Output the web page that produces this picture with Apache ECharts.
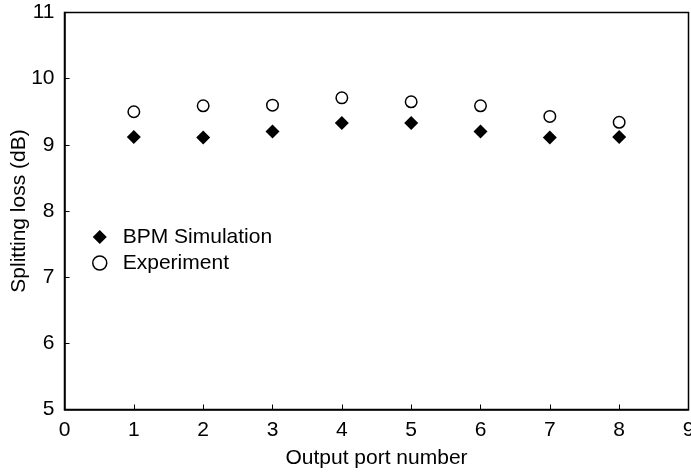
<!DOCTYPE html>
<html><head><meta charset="utf-8">
<script src="https://cdn.jsdelivr.net/npm/echarts@6/dist/echarts.min.js"></script>
<style>html,body{margin:0;padding:0;background:#fff}#c{width:691px;height:473px}</style>
</head><body><div id="c"></div>
<script>
const ports = [1, 2, 3, 4, 5, 6, 7, 8];
const bpmSimulation = [9.12, 9.11, 9.20, 9.33, 9.33, 9.20, 9.11, 9.12];
const experiment = [9.50, 9.59, 9.60, 9.71, 9.65, 9.59, 9.43, 9.34];

const font = 'Liberation Sans, Arial, sans-serif';
const chart = echarts.init(document.getElementById('c'));
chart.setOption({
  animation: false,
  backgroundColor: '#fff',
  grid: { left: 64.5, top: 12.5, right: 2.5, bottom: 63.5, show: true, borderColor: '#000', borderWidth: 1.5,
          backgroundColor: 'transparent', containLabel: false, outerBoundsMode: 'none' },
  legend: {
    orient: 'vertical', left: 92, top: 226.5, itemGap: 5, itemWidth: 14, itemHeight: 14,
    padding: 0,
    textStyle: { fontFamily: font, fontSize: 21, color: '#000', padding: [0, 0, 0, 11] },
    data: [
      { name: 'BPM Simulation', icon: 'diamond', itemStyle: { color: '#000', borderWidth: 0, opacity: 1 } },
      { name: 'Experiment', icon: 'circle', itemStyle: { color: '#fff', borderColor: '#000', borderWidth: 1.5, opacity: 1 } }
    ]
  },
  xAxis: {
    type: 'value', min: 0, max: 9, interval: 1,
    name: 'Output port number', nameLocation: 'middle', nameGap: 38, nameMoveOverlap: false,
    nameTextStyle: { fontFamily: font, fontSize: 21, color: '#000' },
    axisLine: { lineStyle: { color: '#000', width: 1.5 } },
    axisTick: { inside: true, length: 5, lineStyle: { color: '#000' } },
    axisLabel: { fontFamily: font, fontSize: 21, color: '#000', margin: 10, showMaxLabel: true, showMinLabel: true },
    splitLine: { show: false }
  },
  yAxis: {
    type: 'value', min: 5, max: 11, interval: 1,
    name: 'Splitting loss (dB)', nameLocation: 'middle', nameGap: 35, nameRotate: 90, nameMoveOverlap: false,
    nameTextStyle: { fontFamily: font, fontSize: 21, color: '#000' },
    axisLine: { lineStyle: { color: '#000', width: 1.5 } },
    axisTick: { inside: true, length: 5, lineStyle: { color: '#000' } },
    axisLabel: { fontFamily: font, fontSize: 21, color: '#000', margin: 10, showMaxLabel: true, showMinLabel: true },
    splitLine: { show: false }
  },
  series: [
    { name: 'BPM Simulation', type: 'scatter', symbol: 'diamond', symbolSize: 14,
      itemStyle: { color: '#000', opacity: 1 }, data: ports.map((p, i) => [p, bpmSimulation[i]]) },
    { name: 'Experiment', type: 'scatter', symbol: 'circle', symbolSize: 11.5,
      itemStyle: { color: '#fff', borderColor: '#000', borderWidth: 1.5, opacity: 1 }, data: ports.map((p, i) => [p, experiment[i]]) }
  ]
});
</script></body></html>
